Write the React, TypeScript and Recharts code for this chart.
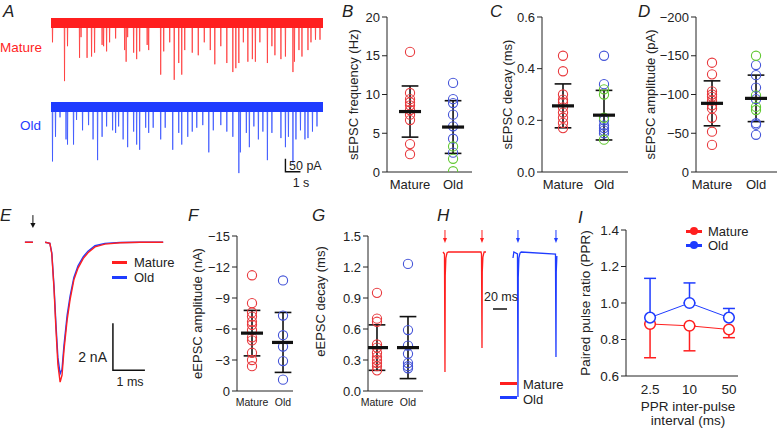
import React from 'react'
import { ScatterChart, Scatter, ComposedChart, Line, XAxis, YAxis, ErrorBar } from 'recharts'

const FONT = '"Liberation Sans", Arial, Helvetica, sans-serif'
const RED = '#ff1f1f'
const BLUE = '#1f3cff'
const C_RED = '#e8393d'
const C_BLUE = '#4454d8'
const C_GREEN = '#63c933'
const INK = '#222'

// A: spontaneous traces, event time (s) and amplitude (pA)
const matureSpikeT = [0.1, 0.9, 1.1, 1.9, 2.0, 2.4, 2.7, 2.9, 3.4, 3.5, 3.7, 3.9, 4.3, 4.9, 5.0, 5.1, 5.5, 5.7, 5.9, 6.4, 6.5, 7.3, 7.5, 7.9, 8.2, 8.5, 8.7, 8.9, 9.4, 9.8, 10.2, 10.6, 10.9, 11.3, 11.7, 12.1, 12.3, 12.5, 12.8, 13.1, 13.4, 13.6, 13.9, 14.4, 14.7, 14.9, 15.3, 15.6, 16.1, 16.2, 16.5, 16.7, 17.1, 17.3, 17.6, 17.9]
const matureSpikeAmp = [75, 225, 90, 135, 55, 135, 130, 115, 85, 90, 110, 75, 60, 105, 150, 55, 115, 140, 110, 85, 105, 200, 110, 75, 220, 155, 200, 105, 115, 125, 75, 105, 160, 90, 155, 190, 175, 155, 75, 150, 140, 150, 75, 155, 90, 125, 140, 130, 190, 150, 105, 130, 105, 75, 65, 65]
const oldSpikeT = [0.1, 0.3, 0.6, 1.0, 1.1, 1.5, 1.7, 2.1, 2.5, 2.8, 3.1, 3.4, 3.7, 4.1, 4.3, 4.5, 4.8, 5.1, 5.5, 5.7, 5.9, 6.3, 6.5, 6.8, 7.3, 7.6, 8.1, 8.5, 8.7, 9.1, 9.4, 9.7, 10.1, 10.5, 10.8, 11.3, 11.7, 12.1, 12.5, 12.6, 13.0, 13.2, 13.5, 13.8, 14.1, 14.4, 14.7, 15.3, 15.6, 15.8, 16.1, 16.3, 16.6, 16.9, 17.1, 17.4, 17.7]
const oldSpikeAmp = [210, 115, 40, 125, 145, 145, 50, 90, 70, 125, 205, 115, 75, 90, 100, 75, 125, 155, 95, 145, 165, 80, 100, 80, 125, 80, 165, 100, 145, 115, 95, 80, 70, 175, 90, 70, 95, 115, 255, 175, 100, 155, 75, 125, 95, 205, 100, 120, 155, 115, 215, 125, 90, 125, 120, 95, 75]
const traceEnd = 18.1

// B-D: sEPSC
const bMature = [15.5, 10.2, 9.4, 9.0, 8.6, 8.0, 7.4, 6.7, 3.6, 2.3]
const bOld = [11.5, 9.4, 8.9, 7.4, 5.9, 4.3, 2.5]
const bOldGreen = [3.3, 1.7, 0.1]
const bMean = [7.8, 5.8]
const bSd = [3.3, 3.4]

const cMature = [0.45, 0.39, 0.3, 0.28, 0.27, 0.25, 0.23, 0.21, 0.19, 0.17]
const cOld = [0.45, 0.34, 0.2, 0.18, 0.17, 0.16, 0.15]
const cOldGreen = [0.32, 0.3, 0.21, 0.125]
const cMean = [0.256, 0.22]
const cSd = [0.085, 0.096]

const dMature = [-141, -126, -104, -100, -97, -92, -86, -82, -70, -52, -35]
const dOld = [-138, -125, -109, -94, -63, -61, -48]
const dOldGreen = [-150, -99, -84, -80]
const dMean = [-88.6, -95]
const dSd = [29, 30]

// E: averaged eEPSC (ms, nA)
const eTime = [0.06, 0.31, 0.4, 0.69, 0.84, 0.9, 0.97, 1.03, 1.09, 1.16, 1.22, 1.28, 1.38, 1.47, 1.59, 1.72, 1.88, 2.03, 2.25, 2.56, 3.03, 3.66, 4.38]
const eMature = [0, 0, null, 0, -0.05, -0.5, -2.0, -3.7, -5.2, -5.95, -5.65, -4.6, -3.3, -2.45, -1.6, -1.1, -0.7, -0.45, -0.2, -0.08, -0.02, 0, 0]
const eOld = [0, 0, null, 0, -0.05, -0.45, -1.9, -3.5, -4.9, -5.6, -5.4, -4.4, -3.1, -2.3, -1.5, -1.0, -0.62, -0.38, -0.15, -0.05, -0.01, 0, 0]

// F, G: eEPSC
const fMature = [-11.2, -8.5, -7.6, -7.2, -6.7, -6.4, -5.9, -5.2, -4.9, -3.7, -3.0, -2.4]
const fOld = [-10.7, -7.3, -5.4, -4.3, -2.9, -1.1]
const fMean = [-5.6, -4.7]
const fSd = [2.2, 2.9]

const gMature = [0.95, 0.7, 0.67, 0.45, 0.42, 0.37, 0.33, 0.3, 0.27, 0.24, 0.2]
const gOld = [1.23, 0.59, 0.44, 0.36, 0.27, 0.24, 0.22]
const gMean = [0.42, 0.42]
const gSd = [0.22, 0.3]

// H: paired pulse traces (ms, a.u.)
const hMatureT = [4.3, 6.4, 7.1, 7.5, 8.4, 10, 12, 58.6, 59.3, 60, 60.4, 61.3, 63, 65.7]
const hMatureV = [0, -0.1, -6.0, -1.2, -0.3, -0.05, 0, 0, -0.1, -4.8, -1.0, -0.25, 0, 0]
const hOldT = [104.3, 105.5, 110.7, 111.4, 111.8, 112.7, 114.3, 116, 165, 165.7, 166.1, 167]
const hOldV = [-0.3, 0, -0.1, -7.25, -1.3, -0.3, -0.05, 0, -0.1, -5.25, -1.0, -0.2]
const hArrowT = [7.1, 60, 111.4, 165.7]

// I: PPR
const iLabels = ['2.5', '10', '50']
const iMature = [0.885, 0.875, 0.855]
const iMatureErr = [0.185, 0.137, 0.045]
const iOld = [0.92, 1.0, 0.92]
const iOldErr = [0.215, 0.11, 0.05]

const pts = (x: number, ys: number[]) => ys.map((y) => ({ x, y }))
const spikeSeries = (ts: number[], amps: number[]) => {
  const out: { t: number; v: number }[] = [{ t: 0, v: 0 }]
  ts.forEach((t, i) => {
    out.push({ t: t - 0.02, v: 0 }, { t, v: -amps[i] }, { t: t + 0.02, v: 0 })
  })
  out.push({ t: traceEnd, v: 0 })
  return out
}
const minus = (v: number) => (v < 0 ? '\u2212' + Math.abs(v) : String(v))

const ring = (color: string, r = 4.6) => (p: any) => (
  <circle cx={p.cx} cy={p.cy} r={r} fill="none" stroke={color} strokeWidth={1.1} />
)
const meanBar = (w: number) => (p: any) => <rect x={p.cx - w / 2} y={p.cy - 1.6} width={w} height={3.2} fill="#111" />
const arrow = (color: string, head = 2.6) => (p: any) => (
  <g>
    <line x1={p.cx} y1={p.cy - 13} x2={p.cx} y2={p.cy - 3} stroke={color} strokeWidth={1} />
    <polygon points={`${p.cx - head},${p.cy - 5} ${p.cx + head},${p.cy - 5} ${p.cx},${p.cy}`} fill={color} />
  </g>
)

function Txt({ x, y, children, anchor = 'start', size = 13, color = INK, italic = false }: any) {
  const tx = anchor === 'middle' ? '-50%' : anchor === 'end' ? '-100%' : '0'
  return (
    <div
      style={{
        position: 'absolute',
        left: x,
        top: y,
        transform: `translate(${tx}, -50%)`,
        fontSize: size,
        color,
        lineHeight: 1,
        whiteSpace: 'nowrap',
        fontStyle: italic ? 'italic' : 'normal',
      }}
    >
      {children}
    </div>
  )
}

function LegendLine({ x, y, w, color, dot = false }: any) {
  return (
    <>
      <div style={{ position: 'absolute', left: x, top: y - 1.5, width: w, height: 3, background: color }} />
      {dot && (
        <div
          style={{ position: 'absolute', left: x + w / 2 - 4, top: y - 4, width: 8, height: 8, borderRadius: 4, background: color }}
        />
      )}
    </>
  )
}

interface Group {
  x: number
  color: string
  values: number[]
}

interface DotPanelProps {
  axisX: number
  top: number
  plotW: number
  plotH: number
  xDomain: [number, number]
  yDomain: [number, number]
  yTicks: number[]
  yFmt: (v: number) => string
  reversed?: boolean
  yLabel: string
  gap: number
  labelDy?: number
  catFont: number
  groups: Group[]
  means: number[]
  sds: number[]
  barW: number
}

function DotPanel(p: DotPanelProps) {
  const yW = p.gap + 14
  const mt = 8
  const meanData = p.means.map((m, i) => ({ x: i + 1, y: m, sd: p.sds[i] }))
  return (
    <div style={{ position: 'absolute', left: p.axisX - yW, top: p.top - mt }}>
      <ScatterChart width={yW + p.plotW} height={mt + p.plotH + 25} margin={{ top: mt, right: 0, bottom: 0, left: 0 }}>
        <XAxis
          type="number"
          dataKey="x"
          domain={p.xDomain}
          allowDataOverflow
          ticks={[1, 2]}
          interval={0}
          tickFormatter={(v) => (v === 1 ? 'Mature' : 'Old')}
          tickLine={false}
          height={25}
          stroke={INK}
          tick={{ fill: INK, fontSize: p.catFont }}
        />
        <YAxis
          type="number"
          dataKey="y"
          domain={p.yDomain}
          allowDataOverflow
          reversed={p.reversed}
          ticks={p.yTicks}
          interval={0}
          tickFormatter={p.yFmt}
          width={yW}
          tickSize={5}
          stroke={INK}
          tick={{ fill: INK, fontSize: 13 }}
          label={{
            value: p.yLabel,
            angle: -90,
            position: 'insideLeft',
            offset: yW - p.gap,
            dy: p.labelDy ?? 0,
            style: { textAnchor: 'middle', fontSize: 13, fill: INK },
          }}
        />
        {p.groups.map((g, i) => (
          <Scatter key={i} data={pts(g.x, g.values)} shape={ring(g.color)} isAnimationActive={false} />
        ))}
        <Scatter data={meanData} shape={meanBar(p.barW)} isAnimationActive={false}>
          <ErrorBar dataKey="sd" direction="y" width={p.barW * 0.38} stroke="#111" strokeWidth={1.6} />
        </Scatter>
      </ScatterChart>
    </div>
  )
}

function Trace({ left, top, height, domain, ts, amps, color, spike, extra }: any) {
  return (
    <div style={{ position: 'absolute', left, top }}>
      <ComposedChart width={272} height={height} margin={{ top: 0, right: 0, bottom: 0, left: 0 }}>
        <XAxis type="number" dataKey="t" domain={[0, traceEnd]} hide />
        <YAxis type="number" dataKey="v" domain={domain} hide />
        <Line
          data={spikeSeries(ts, amps)}
          dataKey="v"
          stroke={spike}
          strokeWidth={1}
          strokeOpacity={0.8}
          dot={false}
          isAnimationActive={false}
        />
        <Line
          data={[{ t: 0, v: 0 }, { t: traceEnd, v: 0 }]}
          dataKey="v"
          stroke={color}
          strokeWidth={10}
          dot={false}
          isAnimationActive={false}
        />
        {extra && (
          <Line data={extra} dataKey="v" stroke="#111" strokeWidth={1.4} dot={false} isAnimationActive={false} />
        )}
      </ComposedChart>
    </div>
  )
}

export default function App() {
  const eMatureData = eTime.map((t, i) => ({ t, v: eMature[i] }))
  const eOldData = eTime.map((t, i) => ({ t, v: eOld[i] }))
  const hMatureData = hMatureT.map((t, i) => ({ t, v: hMatureV[i] }))
  const hOldData = hOldT.map((t, i) => ({ t, v: hOldV[i] }))
  const iMatureData = iMature.map((y, i) => ({ x: i + 1, y, e: [iMatureErr[i], 0] }))
  const iOldData = iOld.map((y, i) => ({ x: i + 1, y, e: [0, iOldErr[i]] }))

  return (
    <div
      style={{
        position: 'absolute',
        left: 0,
        top: 0,
        width: 777,
        height: 430,
        background: '#fff',
        fontFamily: FONT,
        overflow: 'hidden',
      }}
    >
      {/* A */}
      <Txt x={3} y={11} size={17} italic>A</Txt>
      <Txt x={0} y={48} size={13.5} color={RED}>Mature</Txt>
      <Txt x={41} y={126} size={13.5} color={BLUE} anchor="end">Old</Txt>
      <Trace left={51} top={10} height={75} domain={[-240, 50]} ts={matureSpikeT} amps={matureSpikeAmp} color={RED} spike="#ff3a3a" />
      <Trace
        left={51}
        top={94}
        height={83}
        domain={[-270, 50]}
        ts={oldSpikeT}
        amps={oldSpikeAmp}
        color={BLUE}
        spike="#3a55ff"
        extra={[{ t: 15.6, v: -200 }, { t: 15.6, v: -250 }, { t: 16.6, v: -250 }]}
      />
      <Txt x={289} y={166} size={12.5}>50 pA</Txt>
      <Txt x={301} y={183} size={12.5} anchor="middle">1 s</Txt>

      {/* B, C, D */}
      <Txt x={342} y={11} size={17} italic>B</Txt>
      <DotPanel
        axisX={387}
        top={17}
        plotW={85}
        plotH={155}
        xDomain={[0.465, 2.44]}
        yDomain={[0, 20]}
        yTicks={[0, 5, 10, 15, 20]}
        yFmt={(v) => String(v)}
        yLabel="sEPSC frequency (Hz)"
        gap={34}
        catFont={13}
        groups={[
          { x: 1, color: C_RED, values: bMature },
          { x: 2, color: C_BLUE, values: bOld },
          { x: 2, color: C_GREEN, values: bOldGreen },
        ]}
        means={bMean}
        sds={bSd}
        barW={22}
      />
      <Txt x={490} y={11} size={17} italic>C</Txt>
      <DotPanel
        axisX={542}
        top={17}
        plotW={86}
        plotH={155}
        xDomain={[0.488, 2.585]}
        yDomain={[0, 0.6]}
        yTicks={[0, 0.2, 0.4, 0.6]}
        yFmt={(v) => v.toFixed(1)}
        yLabel="sEPSC decay (ms)"
        gap={35}
        catFont={13}
        groups={[
          { x: 1, color: C_RED, values: cMature },
          { x: 2, color: C_BLUE, values: cOld },
          { x: 2, color: C_GREEN, values: cOldGreen },
        ]}
        means={cMean}
        sds={cSd}
        barW={22}
      />
      <Txt x={638} y={11} size={17} italic>D</Txt>
      <DotPanel
        axisX={696}
        top={17}
        plotW={81}
        plotH={155}
        xDomain={[0.636, 2.477]}
        yDomain={[-200, 0]}
        reversed
        yTicks={[0, -50, -100, -150, -200]}
        yFmt={minus}
        yLabel="sEPSC amplitude (pA)"
        gap={46}
        catFont={13}
        groups={[
          { x: 1, color: C_RED, values: dMature },
          { x: 2, color: C_BLUE, values: dOld },
          { x: 2, color: C_GREEN, values: dOldGreen },
        ]}
        means={dMean}
        sds={dSd}
        barW={22}
      />

      {/* E */}
      <Txt x={0} y={215} size={17} italic>E</Txt>
      <div style={{ position: 'absolute', left: 23, top: 213.8 }}>
        <ComposedChart width={140.8} height={181} margin={{ top: 0, right: 0, bottom: 0, left: 0 }}>
          <XAxis type="number" dataKey="t" domain={[0, 4.4]} hide />
          <YAxis type="number" dataKey="v" domain={[-6.5, 1.2]} hide />
          <Line data={eOldData} dataKey="v" stroke={BLUE} strokeWidth={1.4} dot={false} isAnimationActive={false} />
          <Line data={eMatureData} dataKey="v" stroke={RED} strokeWidth={1.4} dot={false} isAnimationActive={false} />
          <Line
            data={[{ t: 2.81, v: -3.45 }, { t: 2.81, v: -5.45 }, { t: 3.81, v: -5.45 }]}
            dataKey="v"
            stroke="#111"
            strokeWidth={1.5}
            dot={false}
            isAnimationActive={false}
          />
          <Scatter data={[{ t: 0.31, v: 0.6 }]} shape={arrow('#111')} isAnimationActive={false} />
        </ComposedChart>
      </div>
      <LegendLine x={112} y={262} w={15} color={RED} />
      <Txt x={134} y={262}>Mature</Txt>
      <LegendLine x={112} y={277} w={15} color={BLUE} />
      <Txt x={134} y={277}>Old</Txt>
      <Txt x={107} y={357} size={14} anchor="end">2 nA</Txt>
      <Txt x={130} y={382} size={12.5} anchor="middle">1 ms</Txt>

      {/* F, G */}
      <Txt x={188} y={215} size={17} italic>F</Txt>
      <DotPanel
        axisX={237}
        top={236}
        plotW={56}
        plotH={155}
        xDomain={[0.516, 2.322]}
        yDomain={[-15, 0]}
        reversed
        yTicks={[0, -3, -6, -9, -12, -15]}
        yFmt={minus}
        yLabel="eEPSC amplitude (nA)"
        gap={40}
        catFont={10.5}
        groups={[
          { x: 1, color: C_RED, values: fMature },
          { x: 2, color: C_BLUE, values: fOld },
        ]}
        means={fMean}
        sds={fSd}
        barW={22}
      />
      <Txt x={312} y={215} size={17} italic>G</Txt>
      <DotPanel
        axisX={368}
        top={236}
        plotW={55}
        plotH={155}
        xDomain={[0.71, 2.484]}
        yDomain={[0, 1.5]}
        yTicks={[0, 0.3, 0.6, 0.9, 1.2, 1.5]}
        yFmt={(v) => v.toFixed(1)}
        yLabel="eEPSC decay (ms)"
        gap={48}
        labelDy={-12}
        catFont={10.5}
        groups={[
          { x: 1, color: C_RED, values: gMature },
          { x: 2, color: C_BLUE, values: gOld },
        ]}
        means={gMean}
        sds={gSd}
        barW={22}
      />

      {/* H */}
      <Txt x={437} y={215} size={17} italic>H</Txt>
      <div style={{ position: 'absolute', left: 440, top: 228 }}>
        <ComposedChart width={125} height={174} margin={{ top: 0, right: 0, bottom: 0, left: 0 }}>
          <XAxis type="number" dataKey="t" domain={[0, 178.6]} hide />
          <YAxis type="number" dataKey="v" domain={[-7.5, 1.2]} hide />
          <Line data={hMatureData} dataKey="v" stroke={RED} strokeWidth={1.3} dot={false} isAnimationActive={false} />
          <Line data={hOldData} dataKey="v" stroke={BLUE} strokeWidth={1.3} dot={false} isAnimationActive={false} />
          <Line
            data={[{ t: 75.7, v: -2.85 }, { t: 95.7, v: -2.85 }]}
            dataKey="v"
            stroke="#111"
            strokeWidth={1.5}
            dot={false}
            isAnimationActive={false}
          />
          <Scatter
            data={hArrowT.slice(0, 2).map((t) => ({ t, v: 0.45 }))}
            shape={arrow(RED, 2)}
            isAnimationActive={false}
          />
          <Scatter
            data={hArrowT.slice(2).map((t) => ({ t, v: 0.45 }))}
            shape={arrow(BLUE, 2)}
            isAnimationActive={false}
          />
        </ComposedChart>
      </div>
      <Txt x={501} y={297} size={12.5} anchor="middle">20 ms</Txt>
      <LegendLine x={500} y={383} w={17} color={RED} />
      <Txt x={523} y={384}>Mature</Txt>
      <LegendLine x={500} y={397} w={17} color={BLUE} />
      <Txt x={523} y={399}>Old</Txt>

      {/* I */}
      <Txt x={578} y={217} size={17} italic>I</Txt>
      <div style={{ position: 'absolute', left: 626 - 55, top: 230 - 8 }}>
        <ComposedChart width={55 + 112} height={8 + 146 + 25} margin={{ top: 8, right: 0, bottom: 0, left: 0 }}>
          <XAxis
            type="number"
            dataKey="x"
            domain={[0.39, 3.23]}
            allowDataOverflow
            ticks={[1, 2, 3]}
            interval={0}
            tickFormatter={(v) => iLabels[v - 1]}
            tickLine={false}
            height={25}
            stroke={INK}
            tick={{ fill: INK, fontSize: 13.5 }}
          />
          <YAxis
            type="number"
            dataKey="y"
            domain={[0.6, 1.4]}
            allowDataOverflow
            ticks={[0.6, 0.8, 1.0, 1.2, 1.4]}
            interval={0}
            tickFormatter={(v) => v.toFixed(1)}
            width={55}
            tickSize={5}
            stroke={INK}
            tick={{ fill: INK, fontSize: 13.5 }}
            label={{
              value: 'Paired pulse ratio (PPR)',
              angle: -90,
              position: 'insideLeft',
              offset: 14,
              style: { textAnchor: 'middle', fontSize: 13.5, fill: INK },
            }}
          />
          <Line
            data={iMatureData}
            dataKey="y"
            stroke={RED}
            strokeWidth={1}
            dot={{ r: 5.3, fill: '#fff', stroke: RED, strokeWidth: 1.5 }}
            isAnimationActive={false}
          >
            <ErrorBar dataKey="e" direction="y" width={6} stroke={RED} strokeWidth={1.5} />
          </Line>
          <Line
            data={iOldData}
            dataKey="y"
            stroke={BLUE}
            strokeWidth={1}
            dot={{ r: 5.3, fill: '#fff', stroke: BLUE, strokeWidth: 1.5 }}
            isAnimationActive={false}
          >
            <ErrorBar dataKey="e" direction="y" width={6} stroke={BLUE} strokeWidth={1.5} />
          </Line>
        </ComposedChart>
      </div>
      <LegendLine x={686} y={231} w={16} color={RED} dot />
      <Txt x={708} y={231}>Mature</Txt>
      <LegendLine x={686} y={245} w={16} color={BLUE} dot />
      <Txt x={708} y={245}>Old</Txt>
      <Txt x={688} y={407} size={13.5} anchor="middle">PPR inter-pulse</Txt>
      <Txt x={688} y={421} size={13.5} anchor="middle">interval (ms)</Txt>
    </div>
  )
}
